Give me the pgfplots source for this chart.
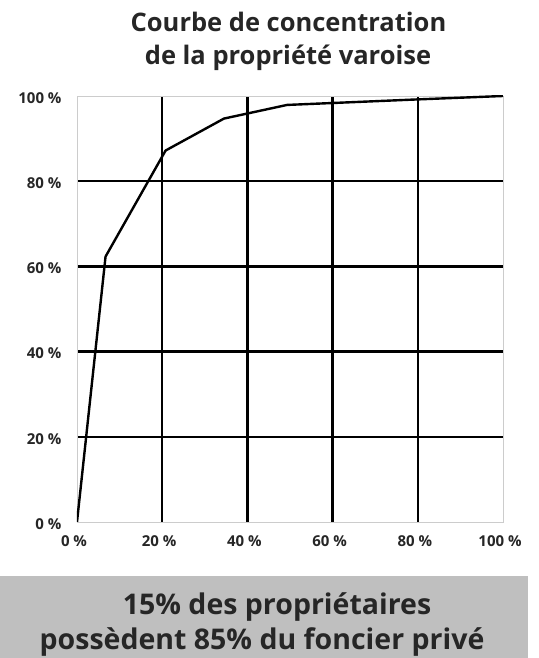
\documentclass[border=0pt]{standalone}
\usepackage{pgfplots}
\pgfplotsset{compat=1.18}
\usepackage{fontspec}
\setmainfont{Open Sans}[BoldFont={Open Sans Bold}]
\definecolor{txt}{HTML}{262626}
\definecolor{boxgray}{HTML}{BFBFBF}
\definecolor{frame}{HTML}{CCCCCC}
\begin{document}
\begin{tikzpicture}
\path[use as bounding box] (0pt,0pt) rectangle (538pt,658pt);
\fill[white] (0pt,0pt) rectangle (538pt,658pt);
\fill[boxgray] (0pt,0pt) rectangle (528pt,82pt);
\node[anchor=base, text=txt, font=\fontsize{25.5}{28}\selectfont\bfseries, inner sep=0pt] at (288.5pt,626pt) {Courbe de concentration};
\node[anchor=base, text=txt, font=\fontsize{25.5}{28}\selectfont\bfseries, inner sep=0pt] at (288pt,593pt) {de la propriété varoise};
\node[anchor=base, text=txt, font=\fontsize{28.5}{31}\selectfont\bfseries, inner sep=0pt] at (277pt,43pt) {15\% des propriétaires};
\node[anchor=base, text=txt, font=\fontsize{28.5}{31}\selectfont\bfseries, inner sep=0pt] at (262pt,8.5pt) {possèdent 85\% du foncier privé};
\begin{axis}[
  at={(77pt,136pt)}, anchor=south west,
  scale only axis, width=426pt, height=426pt,
  xmin=0, xmax=100, ymin=0, ymax=100,
  axis line style={frame, line width=0.8pt},
  xtick={20,40,60,80}, ytick={20,40,60,80},
  xticklabels={20 \%, 40 \%, 60 \%, 80 \%},
  yticklabels={20 \%, 40 \%, 60 \%, 80 \%},
  extra x ticks={0,100}, extra y ticks={0,100},
  extra x tick labels={0 \%, 100 \%},
  extra y tick labels={0 \%, 100 \%},
  extra tick style={grid=none},
  major tick length=0pt,
  grid=major,
  major grid style={black, line width=2.4pt},
  tick label style={text=txt, font=\fontsize{15}{17}\selectfont\bfseries},
  xticklabel style={yshift=-10pt, xshift=-3pt},
  yticklabel style={xshift=-12pt, yshift=-2pt},
]
\addplot[black, line width=2.4pt, line join=round] coordinates {
  (0,0) (6.7,62.3) (20.8,87.2) (34.5,94.7) (49.3,97.9) (80,99.2) (100,100)
};
\end{axis}
\end{tikzpicture}
\end{document}
